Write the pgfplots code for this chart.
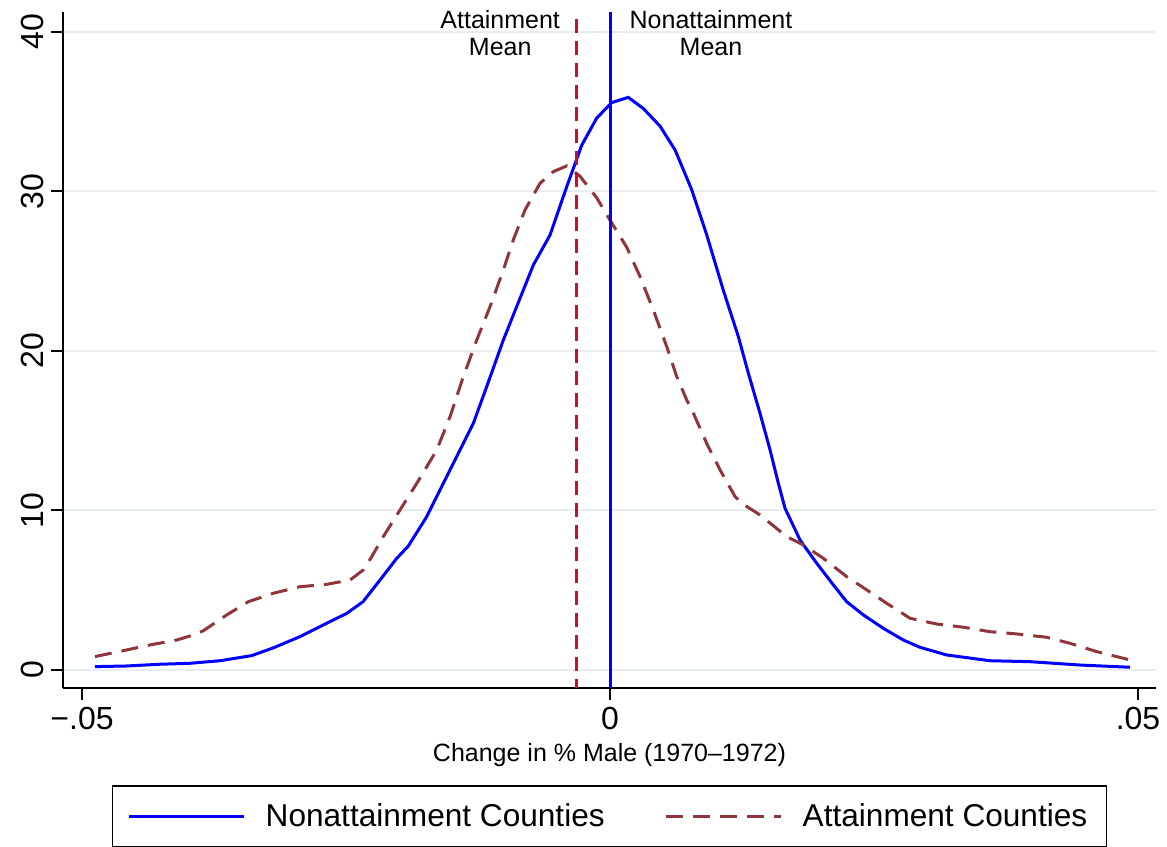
\documentclass[border=0pt]{standalone}
\usepackage{fontspec}
\setmainfont{Liberation Sans}
\usepackage{pgfplots}
\pgfplotsset{compat=1.18}
\definecolor{nonblue}{RGB}{0,0,255}
\definecolor{attbrown}{RGB}{144,53,59}
\definecolor{attred}{RGB}{200,16,46}
\definecolor{gridc}{RGB}{230,238,241}
\begin{document}
\begin{tikzpicture}
\useasboundingbox (-31.5pt,-79pt) rectangle (552pt,344pt);
\begin{axis}[
  at={(0,0)}, anchor=south west,
  scale only axis,
  width=546.5pt, height=338pt,
  xmin=-0.0518, xmax=0.0517,
  ymin=-1.13, ymax=41.25,
  axis x line*=bottom, axis y line*=left,
  axis line style={line width=1pt, black},
  xtick={-0.05,0,0.05},
  xticklabels={−.05,0,.05},
  scaled x ticks=false,
  ytick={0,10,20,30,40},
  tick align=outside,
  major tick length=6pt,
  tick style={line width=1pt, black},
  /pgf/number format/assume math mode=true,
  tick label style={font=\fontsize{16}{19}\selectfont},
  yticklabel style={rotate=90, anchor=south},
  ymajorgrids,
  grid style={color=gridc, line width=1pt},
  xlabel={Change in \% Male (1970–1972)},
  xlabel style={font=\fontsize{12.5}{15}\selectfont},
  clip=false,
  legend columns=2,
  legend style={
    at={(0.5,-0.1435)}, anchor=north,
    draw=black, line width=0.75pt,
    font=\fontsize{15.8}{18}\selectfont,
    inner xsep=7.5pt, inner ysep=6.75pt,
    /tikz/every even column/.append style={column sep=28pt},
  },
  legend cell align=left,
  legend image code/.code={\draw[#1] (0pt,0pt) -- (57.5pt,0pt); \path (65.5pt,0pt);},
]
\addplot[color=nonblue, line width=1.5pt] coordinates {
(-0.04877,0.21) (-0.04577,0.25) (-0.04261,0.36) (-0.03977,0.42) (-0.03693,0.58)
(-0.03393,0.90) (-0.03191,1.38) (-0.02936,2.09) (-0.02652,3.03) (-0.02493,3.55)
(-0.02339,4.28) (-0.02178,5.64) (-0.02020,7.00) (-0.01910,7.77) (-0.01736,9.61)
(-0.01610,11.29) (-0.01452,13.37) (-0.01294,15.47) (-0.01168,17.76) (-0.01010,20.69)
(-0.00884,22.78) (-0.00726,25.39) (-0.00568,27.27) (-0.00410,30.30) (-0.00268,32.9)
(-0.00126,34.6) (0.00016,35.57) (0.00173,35.9) (0.00315,35.2) (0.00473,34.1)
(0.00616,32.6) (0.00774,30.1) (0.00916,27.27) (0.01073,23.8) (0.01215,20.9)
(0.01310,18.6) (0.01420,16.1) (0.01515,13.8) (0.01594,11.7) (0.01657,10.14)
(0.01799,8.15) (0.01957,6.69) (0.02115,5.33) (0.02241,4.28) (0.02399,3.45)
(0.02588,2.61) (0.02777,1.88) (0.02936,1.42) (0.03188,0.94) (0.03598,0.58)
(0.03977,0.52) (0.04451,0.31) (0.04924,0.17)
};
\addlegendentry{Nonattainment Counties}
\addplot[color=attbrown, line width=1.5pt, dash pattern=on 8.5pt off 5pt] coordinates {
(-0.04877,0.84) (-0.04609,1.21) (-0.04356,1.57) (-0.04103,1.88) (-0.03946,2.19)
(-0.03851,2.46) (-0.03630,3.45) (-0.03425,4.28) (-0.03188,4.81) (-0.02936,5.22)
(-0.02683,5.37) (-0.02462,5.64) (-0.02336,6.27) (-0.02257,7.1) (-0.02147,8.36)
(-0.01989,10.03) (-0.01830,11.7) (-0.01641,13.79) (-0.01515,15.88) (-0.01389,18.39)
(-0.01262,20.69) (-0.01136,22.78) (-0.01010,25.08) (-0.00916,26.96) (-0.00805,28.84)
(-0.00663,30.51) (-0.00537,31.24) (-0.00410,31.6) (-0.00284,30.95) (-0.00126,29.6)
(0.0,28.2) (0.00158,26.5) (0.00284,24.66) (0.00410,22.57) (0.00537,20.27)
(0.00632,18.39) (0.00726,16.93) (0.00789,16.1) (0.00916,14.2) (0.01042,12.54)
(0.01184,10.87) (0.01247,10.45) (0.01420,9.72) (0.01673,8.36) (0.01830,7.84)
(0.02020,7.0) (0.02241,5.85) (0.02431,5.02) (0.02620,4.18) (0.02841,3.24)
(0.03094,2.88) (0.03346,2.68) (0.03598,2.40) (0.03851,2.26) (0.04135,2.05)
(0.04356,1.67) (0.04609,1.15) (0.04924,0.63)
};
\addlegendentry{Attainment Counties\hspace{6pt}}
\addplot[color=nonblue, line width=1.5pt, forget plot] coordinates {(0,-1.13) (0,41.25)};
\addplot[color=attred, line width=1.5pt, dash pattern=on 7pt off 4pt, forget plot] coordinates {(-0.00313,40.8) (-0.00313,-1.13)};
\node[align=center, anchor=north, inner sep=0pt, font=\fontsize{12.5}{13.5}\selectfont] at (axis cs:-0.0104,41.38) {Attainment\\Mean};
\node[align=center, anchor=north, inner sep=0pt, font=\fontsize{12.5}{13.5}\selectfont] at (axis cs:0.00956,41.38) {Nonattainment\\Mean};
\end{axis}
\end{tikzpicture}
\end{document}
